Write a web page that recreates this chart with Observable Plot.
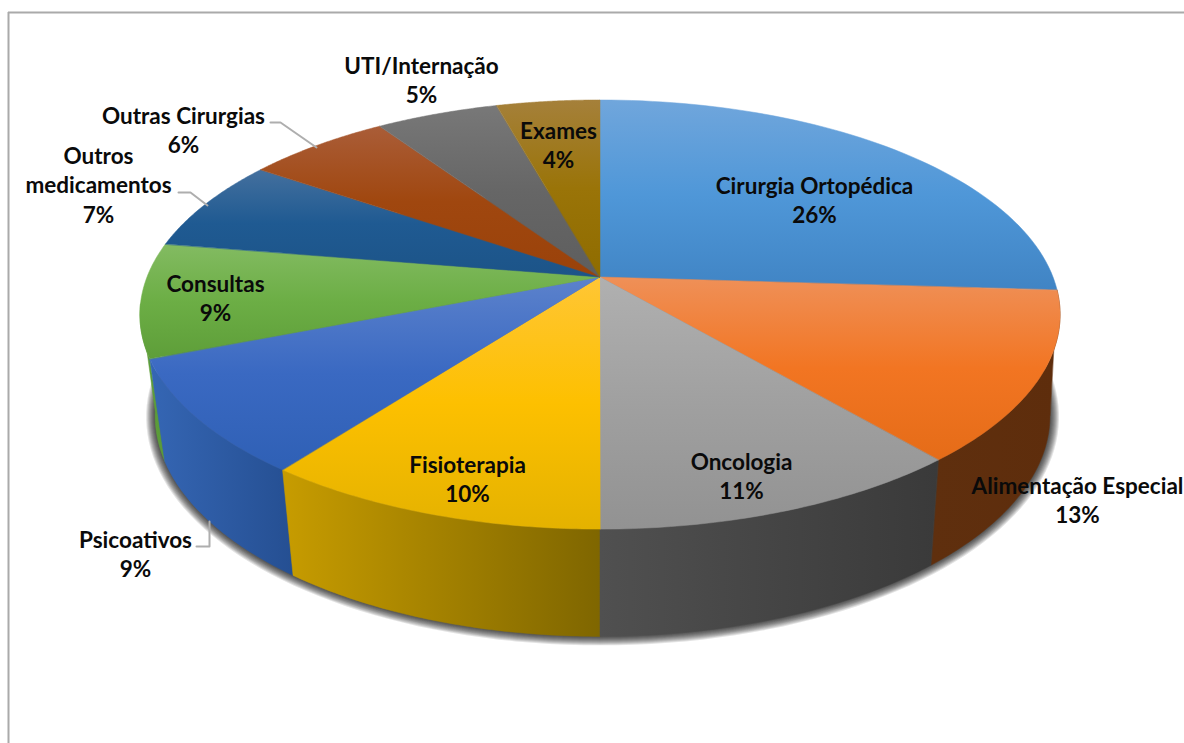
<!DOCTYPE html>
<html lang="pt">
<head>
<meta charset="utf-8">
<style>html,body{margin:0;padding:0;background:#fff;overflow:hidden}svg{display:block}</style>
<script src="https://cdn.jsdelivr.net/npm/d3@7"></script>
<script src="https://cdn.jsdelivr.net/npm/@observablehq/plot@0.6"></script>
</head>
<body>
<div id="chart"></div>
<script>
// Data (label shows the rounded percentage)
const categories = ["Cirurgia Ortopédica","Alimentação Especial","Oncologia","Fisioterapia","Psicoativos","Consultas","Outros medicamentos","Outras Cirurgias","UTI/Internação","Exames"];
const shares = [26,12.8,11.2,10.3,8.7,8.6,7.0,6.0,5.1,4.3];
const percentLabels = ["26%","13%","11%","10%","9%","9%","7%","6%","5%","4%"];
const labelLines = [["Cirurgia Ortopédica"],["Alimentação Especial"],["Oncologia"],["Fisioterapia"],["Psicoativos"],["Consultas"],["Outros","medicamentos"],["Outras Cirurgias"],["UTI/Internação"],["Exames"]];

// Styles
const topStops = [
 ["#70a6dc","#4f97d8","#4084c4"],["#ef9058","#f27522","#e56c18"],["#b0b0b0","#a0a0a0","#929292"],
 ["#ffc635","#fdc000","#e4b200"],["#5c82cc","#3a69c2","#2f60b5"],["#83bb62","#6cae45","#5e9e39"],
 ["#44709e","#1f5a92","#1c5488"],["#aa5d38","#a0470f","#9a420a"],["#787878","#666666","#5e5e5e"],["#a5803a","#9a7408","#8f6c00"]];
const wallStops = {1:["#5f2f0e","#5e2d0c"],2:["#505050","#3a3a3a"],3:["#c79c00","#7f6600"],4:["#3566b4","#254f92"],5:["#5fa03a","#5a9a38"]};
const wallOrder = [1,5,4,3,2];

// Layout of the tilted disc (perspective projection of a circle)
const W = 1184, H = 743, CX = 600, K = 0.175, TOP = {cy:277,ax:453,ay:208}, BOT = {cy:377,ay:214};
const rad = p => p / 100 * 2 * Math.PI;
const toTop = a => { const u=Math.sin(a), v=Math.cos(a), w=1+K*v; return [CX+TOP.ax*u/w, TOP.cy-TOP.ay*v/w]; };
const toBot = a => { const u=Math.sin(a), v=Math.cos(a), w=1+K*v; return [CX+(u<0?438:443)*u/w, BOT.cy-BOT.ay*v/w]; };
const sample = (a0,a1,n=60) => d3.range(n+1).map(i => a0+(a1-a0)*i/n);

let acc = 0;
const slices = shares.map(s => { const r=[rad(acc),rad(acc+s)]; acc+=s; return r; });

// Soft shadow: stacked, slightly larger copies of the lower rim
const shadowLayers = d3.range(1,10).map(r => {
  const pts = sample(0,2*Math.PI,200).map(a => { const b=toBot(a);
    return {x1:CX,y1:BOT.cy,x2:CX+(b[0]-CX)*(1+r/445),y2:BOT.cy+(b[1]-BOT.cy)*(1+r/260)}; });
  return Plot.area(pts,{x1:"x1",y1:"y1",x2:"x2",y2:"y2",fill:"#000000",fillOpacity:0.11});
});

const wallMarks = wallOrder.map(i => {
  const hi=rad(72.5), [a0,a1]=slices[i];
  const pts = sample(a0, Math.min(a1,rad(73))).map(a => {
    const t=toTop(a), b=toBot(Math.min(Math.max(a,rad(27.8)),hi));
    return {x1:t[0],y1:t[1],x2:b[0],y2:b[1]};
  });
  return Plot.area(pts,{x1:"x1",y1:"y1",x2:"x2",y2:"y2",fill:`url(#wall${i})`,stroke:`url(#wall${i})`,strokeWidth:0.5});
});

const topMarks = slices.map(([a0,a1],i) => {
  const pts = sample(a0,a1).map(a => { const t=toTop(a); return {x1:CX,y1:TOP.cy,x2:t[0],y2:t[1]}; });
  return Plot.area(pts,{x1:"x1",y1:"y1",x2:"x2",y2:"y2",fill:`url(#top${i})`,stroke:`url(#top${i})`,strokeWidth:0.5});
});

// Label anchors: centre x, y of the first line
const labelAnchors = [[814,186],[1077,486],[741,462],[467,465],[135,540],[215,284],[98,156],[183,116],[421,66],[558,131]];
const LINE = 29.5;
const labelRows = categories.flatMap((c,i) => {
  const lines=[...labelLines[i],percentLabels[i]];
  return lines.map((t,j) => ({x:labelAnchors[i][0], y:labelAnchors[i][1]+j*LINE, t}));
});

const leaders = [
 {k:"a",x:270,y:122},{k:"a",x:280,y:122},{k:"a",x:316,y:147},
 {k:"b",x:178,y:192},{k:"b",x:190,y:192},{k:"b",x:207,y:205},
 {k:"c",x:196,y:546},{k:"c",x:209,y:546},{k:"c",x:209,y:521}];

const plot = Plot.plot({
  width:W, height:H, margin:0,
  style:{background:"#fff"},
  x:{domain:[0,W],range:[0,W],axis:null},
  y:{domain:[0,H],range:[0,H],axis:null},
  marks:[
    Plot.ruleY([12],{x1:8,x2:W,stroke:"#aaaaaa",strokeWidth:2}),
    Plot.ruleX([8],{y1:12,y2:H,stroke:"#aaaaaa",strokeWidth:2}),
    ...shadowLayers,
    ...wallMarks,
    ...topMarks,
    Plot.line(leaders,{x:"x",y:"y",z:"k",stroke:"#aeaeae",strokeWidth:2,curve:"linear"}),
    Plot.text(labelRows,{x:"x",y:"y",text:"t",fontFamily:"Lato",fontWeight:700,fontSize:22.5,fill:"#0a0a0a",textAnchor:"middle",lineAnchor:"middle"})
  ]
});

const defs = d3.select(plot).insert("defs",":first-child");
topStops.forEach((st,i) => {
  const g = defs.append("linearGradient").attr("id",`top${i}`).attr("x1",0).attr("y1",0).attr("x2",0).attr("y2",1);
  [0,0.5,1].forEach((o,j) => g.append("stop").attr("offset",o).attr("stop-color",st[j]));
});
Object.entries(wallStops).forEach(([i,st]) => {
  const g = defs.append("linearGradient").attr("id",`wall${i}`).attr("x1",0).attr("y1",0).attr("x2",1).attr("y2",0);
  [0,1].forEach(j => g.append("stop").attr("offset",j).attr("stop-color",st[j]));
});
document.getElementById("chart").append(plot);
</script>
</body>
</html>
